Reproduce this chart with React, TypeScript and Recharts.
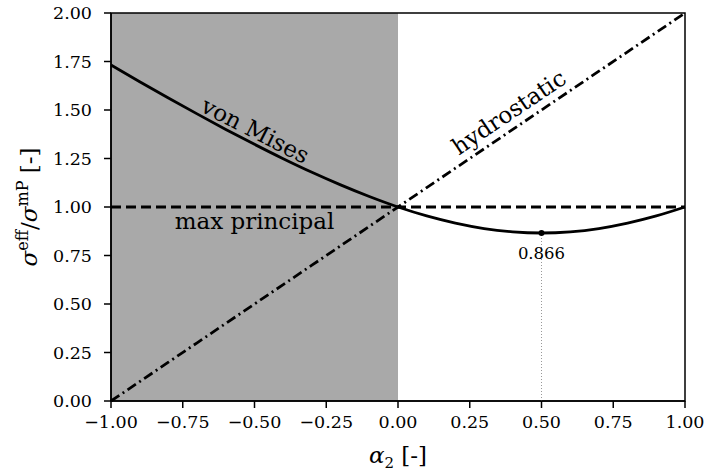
import {
  ComposedChart,
  Line,
  XAxis,
  YAxis,
  ReferenceArea,
  ReferenceLine,
  ReferenceDot,
} from 'recharts';

// alpha_2 sample points
const alpha = [-1, -0.9, -0.8, -0.7, -0.6, -0.5, -0.4, -0.3, -0.2, -0.1, 0, 0.1, 0.2, 0.3, 0.4, 0.5, 0.6, 0.7, 0.8, 0.9, 1];
const vonMises = [1.732, 1.646, 1.562, 1.48, 1.4, 1.323, 1.249, 1.179, 1.114, 1.054, 1, 0.954, 0.917, 0.889, 0.872, 0.866, 0.872, 0.889, 0.917, 0.954, 1];
const hydrostatic = [0, 0.1, 0.2, 0.3, 0.4, 0.5, 0.6, 0.7, 0.8, 0.9, 1, 1.1, 1.2, 1.3, 1.4, 1.5, 1.6, 1.7, 1.8, 1.9, 2];
const maxPrincipal = [1, 1, 1, 1, 1, 1, 1, 1, 1, 1, 1, 1, 1, 1, 1, 1, 1, 1, 1, 1, 1];

const xTicks = [-1, -0.75, -0.5, -0.25, 0, 0.25, 0.5, 0.75, 1];
const yTicks = [0, 0.25, 0.5, 0.75, 1, 1.25, 1.5, 1.75, 2];

const minPoint = { x: 0.5, y: 0.866, label: '0.866' };

const data = alpha.map((a, i) => ({
  a,
  vm: vonMises[i],
  hyd: hydrostatic[i],
  mp: maxPrincipal[i],
}));

const FONT = 'DejaVu Serif';

const fmt = (v: number) => {
  const s = Math.abs(v).toFixed(2);
  return v < 0 ? '\u2212' + s : s;
};

// rotated annotation text, drawn at a data point
const annot = (text: string, angle: number, size = 23) => (p: any) => (
  <text
    x={p.cx}
    y={p.cy}
    textAnchor="middle"
    dominantBaseline="middle"
    transform={`rotate(${angle} ${p.cx} ${p.cy})`}
    fontFamily={FONT}
    fontSize={size}
    fill="#000"
  >
    {text}
  </text>
);

const tickStyle = { fill: '#000', fontFamily: FONT, fontSize: 17.5 };

export default function App() {
  return (
    <div style={{ position: 'fixed', left: 0, top: 0, width: 705, height: 474, background: '#fff' }}>
      <ComposedChart width={705} height={474} data={data} margin={{ top: 13, right: 20, left: 0, bottom: 0 }}>
        <ReferenceArea x1={-1} x2={0} y1={0} y2={2} fill="#a9a9a9" fillOpacity={1} stroke="none" />
        <ReferenceLine
          segment={[{ x: minPoint.x, y: 0 }, { x: minPoint.x, y: minPoint.y }]}
          stroke="#999"
          strokeWidth={1}
          strokeDasharray="1 2"
        />
        <XAxis
          dataKey="a"
          type="number"
          domain={[-1, 1]}
          ticks={xTicks}
          tickFormatter={fmt}
          height={73}
          tickSize={7}
          tickMargin={8}
          stroke="#000"
          strokeWidth={1.5}
          tick={tickStyle}
          tickLine={{ stroke: '#000', strokeWidth: 1.5 }}
          label={{
            content: (p: any) => {
              const vb = p.viewBox;
              const cx = vb.x + vb.width / 2;
              return (
                <text x={cx} y={vb.y + 62} textAnchor="middle" fontFamily={FONT} fontSize={23} fill="#000">
                  <tspan fontStyle="italic">α</tspan>
                  <tspan fontSize={15} dy={5}>2</tspan>
                  <tspan dy={-5}> [-]</tspan>
                </text>
              );
            },
          }}
        />
        <YAxis
          type="number"
          domain={[0, 2]}
          ticks={yTicks}
          tickFormatter={fmt}
          width={111}
          tickSize={7}
          tickMargin={12}
          stroke="#000"
          strokeWidth={1.5}
          tick={tickStyle}
          tickLine={{ stroke: '#000', strokeWidth: 1.5 }}
          label={{
            content: (p: any) => {
              const vb = p.viewBox;
              const cy = vb.y + vb.height / 2;
              const cx = 37;
              return (
                <text
                  x={cx}
                  y={cy}
                  textAnchor="middle"
                  transform={`rotate(-90 ${cx} ${cy})`}
                  fontFamily={FONT}
                  fontSize={23}
                  fill="#000"
                >
                  <tspan fontStyle="italic">σ</tspan>
                  <tspan fontSize={16} dy={-9}>eff</tspan>
                  <tspan dy={9}>/</tspan>
                  <tspan fontStyle="italic">σ</tspan>
                  <tspan fontSize={16} dy={-9}>mP</tspan>
                  <tspan dy={9}> [-]</tspan>
                </text>
              );
            },
          }}
        />
        <Line dataKey="mp" type="linear" stroke="#000" strokeWidth={2.8} strokeDasharray="10 5" dot={false} isAnimationActive={false} />
        <Line dataKey="hyd" type="linear" stroke="#000" strokeWidth={2.8} strokeDasharray="10 4 2 4" dot={false} isAnimationActive={false} />
        <Line dataKey="vm" type="monotone" stroke="#000" strokeWidth={2.8} dot={false} isAnimationActive={false} />
        <ReferenceDot x={minPoint.x} y={minPoint.y} r={3} fill="#000" stroke="none" />
        <ReferenceDot x={minPoint.x} y={0.755} shape={annot(minPoint.label, 0, 16.5)} />
        <ReferenceDot x={-0.5} y={1.385} shape={annot('von Mises', 27)} />
        <ReferenceDot x={-0.5} y={0.92} shape={annot('max principal', 0)} />
        <ReferenceDot x={0.39} y={1.48} shape={annot('hydrostatic', -34)} />
        <ReferenceArea x1={-1} x2={1} y1={0} y2={2} fill="none" stroke="#000" strokeWidth={1.5} />
      </ComposedChart>
    </div>
  );
}
